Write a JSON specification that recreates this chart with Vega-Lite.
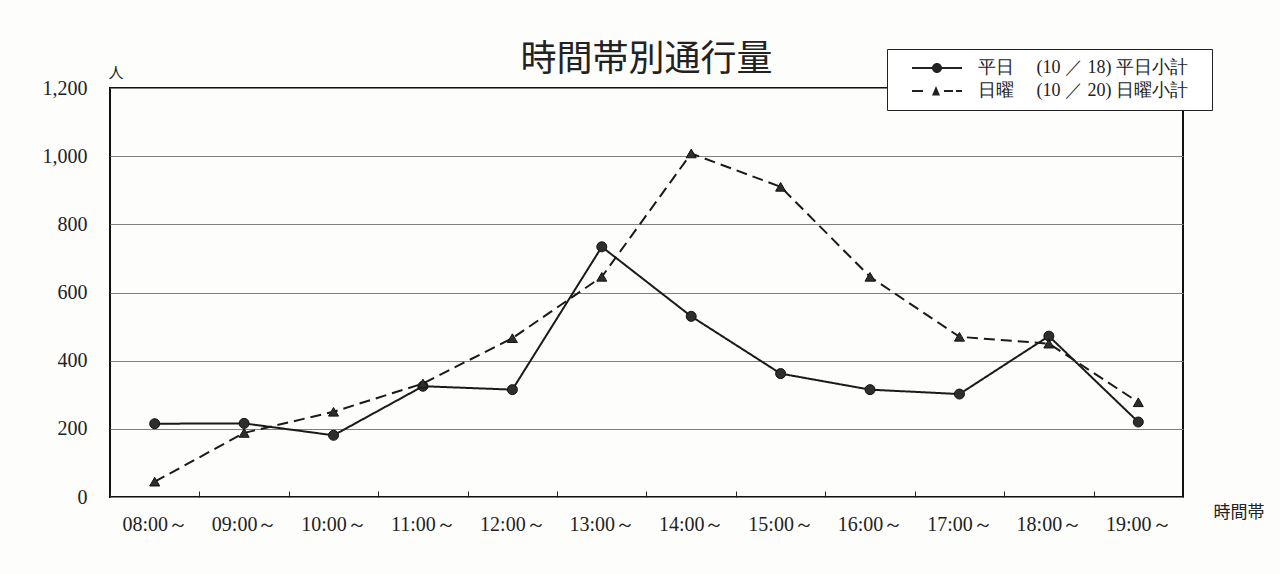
{
  "$schema": "https://vega.github.io/schema/vega-lite/v6.json",
  "width": 1073,
  "height": 409,
  "autosize": {"type": "none"},
  "padding": {"left": 110, "top": 88, "right": 97, "bottom": 77},
  "background": "#fdfdfc",
  "title": {
    "text": "時間帯別通行量",
    "font": "Noto Sans CJK JP",
    "fontSize": 36,
    "fontWeight": "normal",
    "color": "#222",
    "anchor": "middle",
    "frame": "group",
    "offset": -30
  },
  "data": {
    "values": [
      {"time": "08:00～", "series": "平日", "value": 215},
      {"time": "09:00～", "series": "平日", "value": 216},
      {"time": "10:00～", "series": "平日", "value": 181},
      {"time": "11:00～", "series": "平日", "value": 325},
      {"time": "12:00～", "series": "平日", "value": 315},
      {"time": "13:00～", "series": "平日", "value": 734},
      {"time": "14:00～", "series": "平日", "value": 530},
      {"time": "15:00～", "series": "平日", "value": 362},
      {"time": "16:00～", "series": "平日", "value": 315},
      {"time": "17:00～", "series": "平日", "value": 302},
      {"time": "18:00～", "series": "平日", "value": 472},
      {"time": "19:00～", "series": "平日", "value": 220},
      {"time": "08:00～", "series": "日曜", "value": 45},
      {"time": "09:00～", "series": "日曜", "value": 188},
      {"time": "10:00～", "series": "日曜", "value": 250},
      {"time": "11:00～", "series": "日曜", "value": 333},
      {"time": "12:00～", "series": "日曜", "value": 466},
      {"time": "13:00～", "series": "日曜", "value": 646},
      {"time": "14:00～", "series": "日曜", "value": 1008},
      {"time": "15:00～", "series": "日曜", "value": 910},
      {"time": "16:00～", "series": "日曜", "value": 646},
      {"time": "17:00～", "series": "日曜", "value": 470},
      {"time": "18:00～", "series": "日曜", "value": 450},
      {"time": "19:00～", "series": "日曜", "value": 278}
    ]
  },
  "encoding": {
    "x": {
      "field": "time",
      "type": "ordinal",
      "sort": null,
      "scale": {"type": "point", "padding": 0.5},
      "axis": {
        "labelAngle": 0,
        "labelFont": "Liberation Serif",
        "labelFontSize": 20,
        "labelColor": "#222",
        "labelPadding": 23,
        "ticks": true,
        "tickSize": -6,
        "tickColor": "#222",
        "tickOffset": -44.71,
        "labelOffset": 44.71,
        "domain": false,
        "grid": false,
        "title": "時間帯",
        "titleFont": "Noto Sans CJK JP",
        "titleFontSize": 17,
        "titleFontWeight": "normal",
        "titleColor": "#222",
        "titleAlign": "left",
        "titleBaseline": "alphabetic",
        "titleX": 1103,
        "titleY": 20
      }
    },
    "y": {
      "field": "value",
      "type": "quantitative",
      "scale": {"domain": [0, 1200], "nice": false},
      "axis": {
        "values": [0, 200, 400, 600, 800, 1000, 1200],
        "format": ",d",
        "grid": true,
        "gridColor": "#808080",
        "gridWidth": 1,
        "ticks": false,
        "domain": false,
        "labelFont": "Liberation Serif",
        "labelFontSize": 20,
        "labelColor": "#222",
        "labelPadding": 23,
        "title": "人",
        "titleAngle": 0,
        "titleFont": "Noto Sans CJK JP",
        "titleFontSize": 15,
        "titleFontWeight": "normal",
        "titleColor": "#222",
        "titleAlign": "left",
        "titleBaseline": "alphabetic",
        "titleX": -2,
        "titleY": -11
      }
    }
  },
  "layer": [
    {
      "mark": {"type": "line", "strokeWidth": 2, "color": "#1a1a1a"},
      "encoding": {
        "strokeDash": {
          "field": "series",
          "type": "nominal",
          "scale": {"domain": ["平日", "日曜"], "range": [[1, 0], [11, 6]]},
          "legend": null
        }
      }
    },
    {
      "mark": {"type": "point", "filled": true, "opacity": 1, "size": 100, "color": "#2e2e2e", "stroke": "#111", "strokeWidth": 1},
      "encoding": {
        "shape": {
          "field": "series",
          "type": "nominal",
          "scale": {"domain": ["平日", "日曜"], "range": ["circle", "triangle-up"]},
          "legend": null
        }
      }
    },
    {
      "transform": [{"filter": "datum.value < 0"}],
      "mark": {"type": "point", "filled": true, "opacity": 1, "color": "#222"},
      "encoding": {
        "shape": {
          "field": "series",
          "type": "nominal",
          "scale": {
            "domain": ["平日", "日曜"],
            "range": [
              "M1.2,-0.2L11.2,-0.2L11.2,0.2L1.2,0.2ZM5.2,0A1,1 0 1,1 7.2,0A1,1 0 1,1 5.2,0Z",
              "M1.2,-0.2L3.4,-0.2L3.4,0.2L1.2,0.2ZM5.2,0.9L6,-1L6.8,0.9ZM7.6,-0.2L9.4,-0.2L9.4,0.2L7.6,0.2ZM10,-0.2L11.2,-0.2L11.2,0.2L10,0.2Z"
            ]
          },
          "legend": {
            "orient": "none",
            "legendX": 777,
            "legendY": -39,
            "title": null,
            "fillColor": "#ffffff",
            "strokeColor": "#222",
            "padding": 10,
            "rowPadding": 5,
            "symbolSize": 100,
            "symbolFillColor": "#222",
            "symbolOpacity": 1,
            "labelOffset": 63,
            "labelLimit": 400,
            "labelFont": "Liberation Serif",
            "labelFontSize": 18,
            "labelColor": "#222",
            "labelExpr": "datum.value === '平日' ? '平日　  (10 ／ 18)   平日小計' : '日曜　  (10 ／ 20)   日曜小計'"
          }
        }
      }
    }
  ],
  "resolve": {"scale": {"shape": "independent"}},
  "config": {
    "view": {"stroke": "#111", "strokeWidth": 2}
  }
}
